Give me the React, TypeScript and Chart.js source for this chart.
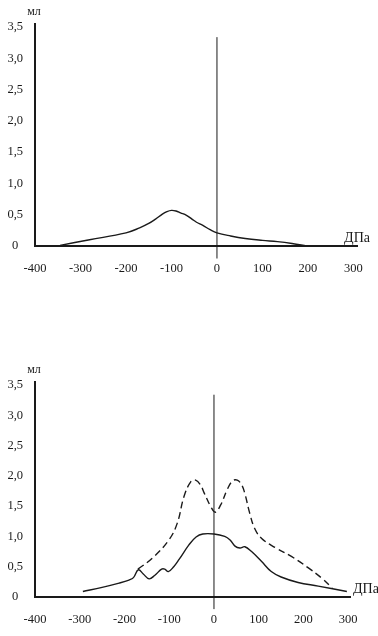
import React, { useEffect, useRef } from 'react';
import { Chart, registerables } from 'chart.js';

Chart.register(...registerables);

// ---- tick labels ----
const xTickValues = [-400, -300, -200, -100, 0, 100, 200, 300];
const yTickValues = [0, 0.5, 1.0, 1.5, 2.0, 2.5, 3.0, 3.5];
const yUnit = 'мл';
const xUnit = 'ДПа';

// ---- top chart: single curve ----
const topX = [-345, -280, -200, -170, -150, -135, -120, -110, -100, -90, -80, -67, -55, -45, -31, -15, 0, 30, 62, 100, 133, 165, 197];
const topY = [0.01, 0.1, 0.21, 0.29, 0.36, 0.43, 0.51, 0.55, 0.57, 0.56, 0.53, 0.49, 0.43, 0.38, 0.33, 0.26, 0.21, 0.16, 0.12, 0.09, 0.07, 0.04, 0.0];

// ---- bottom chart: solid curve ----
const botSolidX = [-293, -250, -212, -190, -180, -169, -158, -145, -132, -117, -110, -102, -90, -78, -56, -40, -25, 0, 24, 36, 47, 58, 69, 84, 106, 128, 150, 188, 233, 297];
const botSolidY = [0.09, 0.16, 0.23, 0.28, 0.32, 0.45, 0.38, 0.3, 0.36, 0.46, 0.46, 0.42, 0.5, 0.62, 0.86, 0.99, 1.04, 1.04, 1.0, 0.94, 0.84, 0.81, 0.83, 0.75, 0.59, 0.42, 0.33, 0.24, 0.18, 0.09];

// ---- bottom chart: dashed curve ----
const botDashX = [-170, -138, -101, -82, -67, -52, -41, -30, -22, -7, 3, 15, 30, 42, 52, 62, 69, 80, 91, 106, 136, 173, 211, 241, 264];
const botDashY = [0.46, 0.64, 0.94, 1.22, 1.66, 1.9, 1.93, 1.85, 1.72, 1.49, 1.4, 1.52, 1.78, 1.92, 1.93, 1.85, 1.71, 1.38, 1.13, 0.97, 0.82, 0.67, 0.48, 0.31, 0.15];

// ---- vertical zero line ----
const zeroLineX = [0, 0];
const zeroLineY = [-0.2, 3.34];

const FONT = '"Liberation Serif", "Times New Roman", serif';
const INK = '#1a1a1a';

function pts(xs: number[], ys: number[]) {
  return xs.map((x, i) => ({ x, y: ys[i] }));
}

function fmtY(v: number) {
  return v === 0 ? '0' : v.toFixed(1).replace('.', ',');
}

type Cfg = {
  padTop: number;
  padRight: number;
  xHeight: number;
  xMax: number;
  unitDx: number;
  datasets: any[];
};

function makeChart(canvas: HTMLCanvasElement, cfg: Cfg) {
  const labelPlugin = {
    id: 'unitLabels',
    afterDraw(chart: any) {
      const { ctx, chartArea } = chart;
      ctx.save();
      ctx.fillStyle = INK;
      ctx.textBaseline = 'middle';
      ctx.font = `12px ${FONT}`;
      ctx.textAlign = 'center';
      ctx.fillText(yUnit, chartArea.left - 1, chartArea.top - 12);
      ctx.font = `14px ${FONT}`;
      ctx.textAlign = 'left';
      ctx.fillText(xUnit, chartArea.right + cfg.unitDx, chartArea.bottom - 8);
      ctx.restore();
    },
  };
  return new Chart(canvas, {
    type: 'line',
    data: { datasets: cfg.datasets },
    options: {
      responsive: false,
      animation: false,
      layout: { padding: { top: cfg.padTop, right: cfg.padRight, left: 0, bottom: 0 } },
      plugins: { legend: { display: false }, tooltip: { enabled: false } },
      elements: { point: { radius: 0 } },
      scales: {
        x: {
          type: 'linear',
          min: -400,
          max: cfg.xMax,
          grid: { display: false, drawTicks: false },
          border: { display: true, color: INK, width: 2 },
          afterBuildTicks: (axis: any) => {
            axis.ticks = xTickValues.map((v) => ({ value: v }));
          },
          afterFit: (axis: any) => {
            axis.height = cfg.xHeight;
          },
          ticks: {
            color: INK,
            font: { family: FONT, size: 12.5 },
            padding: 15,
            maxRotation: 0,
            autoSkip: false,
            callback: (v: any) => String(v),
          },
        },
        y: {
          type: 'linear',
          min: 0,
          max: 3.55,
          grid: { display: false, drawTicks: false },
          border: { display: true, color: INK, width: 2 },
          afterBuildTicks: (axis: any) => {
            axis.ticks = yTickValues.map((v) => ({ value: v }));
          },
          afterFit: (axis: any) => {
            axis.width = 35;
          },
          ticks: {
            color: INK,
            font: { family: FONT, size: 12.5 },
            padding: 12,
            crossAlign: 'center',
            autoSkip: false,
            callback: (v: any) => fmtY(Number(v)),
          },
        },
      },
    } as any,
    plugins: [labelPlugin],
  });
}

const solidStyle = {
  borderColor: INK,
  borderWidth: 1.4,
  pointRadius: 0,
  fill: false,
  tension: 0.4,
};

const zeroStyle = {
  borderColor: INK,
  borderWidth: 1,
  pointRadius: 0,
  fill: false,
  tension: 0,
  clip: false,
};

export default function App() {
  const topRef = useRef<HTMLCanvasElement | null>(null);
  const botRef = useRef<HTMLCanvasElement | null>(null);

  useEffect(() => {
    const c1 = makeChart(topRef.current as HTMLCanvasElement, {
      padTop: 24,
      padRight: 16,
      xHeight: 44,
      xMax: 308,
      unitDx: -13,
      datasets: [
        { ...zeroStyle, data: pts(zeroLineX, zeroLineY) },
        { ...solidStyle, data: pts(topX, topY) },
      ],
    });
    const c2 = makeChart(botRef.current as HTMLCanvasElement, {
      padTop: 82,
      padRight: 28,
      xHeight: 39,
      xMax: 304,
      unitDx: 3,
      datasets: [
        { ...zeroStyle, data: pts(zeroLineX, zeroLineY) },
        { ...solidStyle, data: pts(botSolidX, botSolidY) },
        { ...solidStyle, borderDash: [7, 4], data: pts(botDashX, botDashY) },
      ],
    });
    return () => {
      c1.destroy();
      c2.destroy();
    };
  }, []);

  return (
    <div style={{ position: 'absolute', left: 0, top: 0, width: 378, height: 636, background: '#fff' }}>
      <canvas ref={topRef} width={378} height={290} style={{ position: 'absolute', left: 0, top: 0, display: 'block' }} />
      <canvas ref={botRef} width={378} height={336} style={{ position: 'absolute', left: 0, top: 300, display: 'block' }} />
    </div>
  );
}
